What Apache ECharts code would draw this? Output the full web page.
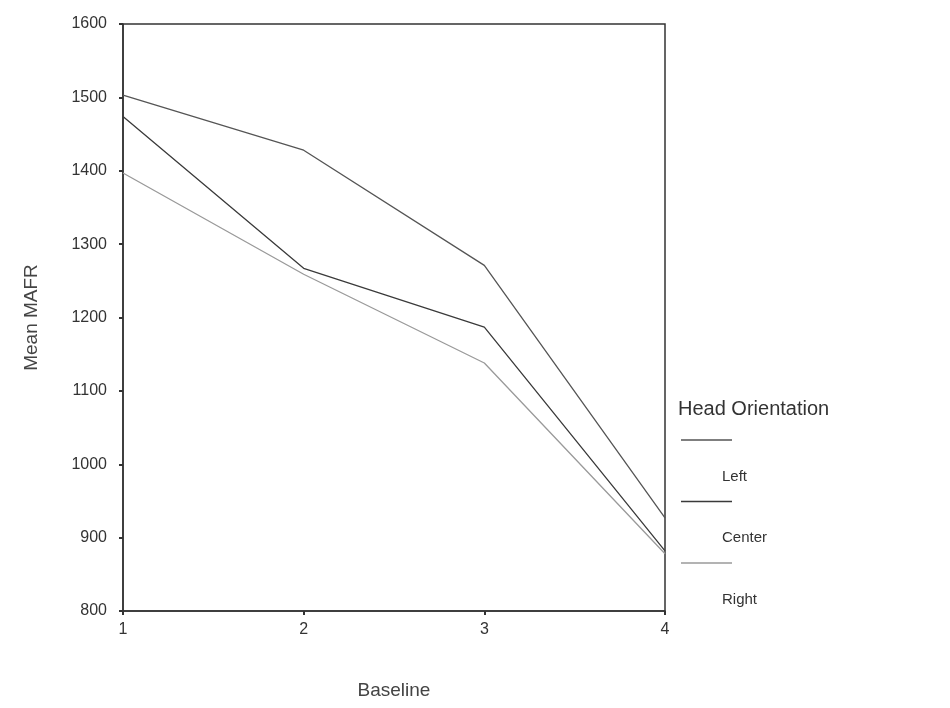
<!DOCTYPE html>
<html>
<head>
<meta charset="utf-8">
<script src="https://cdn.jsdelivr.net/npm/echarts@6/dist/echarts.min.js"></script>
<style>
  html, body { margin: 0; padding: 0; background: #fff; }
  #chart { width: 950px; height: 708px; }
</style>
</head>
<body>
<div id="chart"></div>
<script>
// baseline points on the x axis
var baselines = [1, 2, 3, 4];
var seriesNames = ["Left", "Center", "Right"];
// mean MAFR per head orientation
var leftValues = [1503, 1428, 1271, 927];
var centerValues = [1474, 1267, 1187, 882];
var rightValues = [1397, 1259, 1138, 878];
var yTicks = [800, 900, 1000, 1100, 1200, 1300, 1400, 1500, 1600];

var lineColors = ["#555555", "#3a3a3a", "#9a9a9a"];
var allValues = [leftValues, centerValues, rightValues];

var chart = echarts.init(document.getElementById("chart"));

var series = seriesNames.map(function (name, i) {
  return {
    name: name,
    type: "line",
    data: baselines.map(function (b, j) { return [b, allValues[i][j]]; }),
    symbol: "none",
    lineStyle: { color: lineColors[i], width: 1.3 },
    z: 3 - i
  };
});

// legend built by hand: a short line with the label indented below it
var legendItems = [
  {
    type: "text",
    left: 678,
    top: 399,
    style: { text: "Head Orientation", font: "20px 'Liberation Sans', Arial", fill: "#333" }
  }
];
seriesNames.forEach(function (name, i) {
  var y = 440 + i * 61.5;
  legendItems.push({
    type: "line",
    shape: { x1: 681, y1: y, x2: 732, y2: y },
    style: { stroke: lineColors[i], lineWidth: 1.3 }
  });
  legendItems.push({
    type: "text",
    left: 722,
    top: y + 29,
    style: { text: name, font: "15px 'Liberation Sans', Arial", fill: "#333" }
  });
});

chart.setOption({
  animation: false,
  backgroundColor: "#fff",
  textStyle: { fontFamily: "'Liberation Sans', Arial, sans-serif" },
  grid: {
    left: 123,
    top: 24,
    right: 285,
    bottom: 97,
    show: true,
    borderColor: "#333",
    borderWidth: 1.5,
    backgroundColor: "transparent"
  },
  xAxis: {
    type: "value",
    min: 1,
    max: 4,
    interval: 1,
    name: "Baseline",
    nameLocation: "middle",
    nameGap: 70,
    nameTextStyle: { fontSize: 19, color: "#444" },
    axisLine: { lineStyle: { color: "#333", width: 1.5 } },
    axisTick: { length: 4, lineStyle: { color: "#333", width: 2 } },
    axisLabel: { fontSize: 16, color: "#333", margin: 11, formatter: function (v) { return String(v); } },
    splitLine: { show: false }
  },
  yAxis: {
    type: "value",
    min: yTicks[0],
    max: yTicks[yTicks.length - 1],
    interval: 100,
    name: "Mean MAFR",
    nameLocation: "middle",
    nameGap: 82,
    nameRotate: 90,
    nameTextStyle: { fontSize: 19, color: "#444" },
    axisLine: { show: true, lineStyle: { color: "#333", width: 1.5 } },
    axisTick: { show: true, length: 4, lineStyle: { color: "#333", width: 2 } },
    axisLabel: { fontSize: 16, color: "#333", margin: 16, formatter: function (v) { return String(v); } },
    splitLine: { show: false }
  },
  series: series,
  graphic: legendItems
});
</script>
</body>
</html>
